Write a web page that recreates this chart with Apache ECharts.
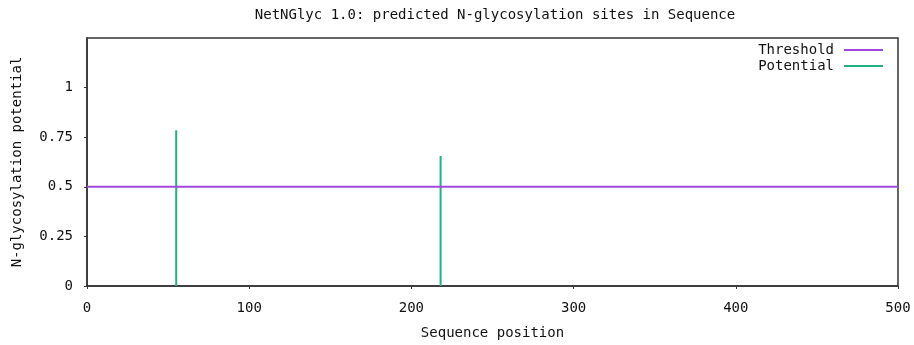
<!DOCTYPE html>
<html>
<head>
<meta charset="utf-8">
<script src="https://cdn.jsdelivr.net/npm/echarts@6/dist/echarts.min.js"></script>
<style>html,body{margin:0;padding:0;background:#fff;}#c{width:914px;height:345px;}</style>
</head>
<body>
<div id="c"></div>
<script>
const titleText = 'NetNGlyc 1.0: predicted N-glycosylation sites in Sequence';
const xName = 'Sequence position';
const yName = 'N-glycosylation potential';
const seriesNames = ['Threshold', 'Potential'];
const thresholdValue = 0.5;
const seqRange = [0, 500];
const sitePositions = [55, 218];
const sitePotentials = [0.785, 0.655];

const FONT = 'DejaVu Sans Mono';
const chart = echarts.init(document.getElementById('c'));
chart.setOption({
  animation: false,
  backgroundColor: '#fff',
  title: {
    text: titleText, left: 490, top: 3, textAlign: 'center',
    textStyle: { fontFamily: FONT, fontSize: 14, fontWeight: 'normal', color: '#111' }
  },
  legend: {
    orient: 'vertical', right: 26, top: 37, align: 'right',
    icon: 'rect', itemWidth: 39, itemHeight: 2, itemGap: 0,
    data: seriesNames,
    textStyle: { fontFamily: FONT, fontSize: 14, color: '#111', lineHeight: 16, padding: [0, 5, 0, 0] }
  },
  grid: { left: 87, right: 16, top: 38, bottom: 54, show: true, borderColor: '#333', borderWidth: 1.5 },
  xAxis: {
    type: 'value', min: seqRange[0], max: seqRange[1], interval: 100,
    name: xName, nameLocation: 'middle', nameGap: 40,
    nameTextStyle: { fontFamily: FONT, fontSize: 14, color: '#111' },
    axisLine: { show: true, lineStyle: { color: '#333', width: 1.5 } },
    axisTick: { show: true, length: 3, lineStyle: { color: '#333' } },
    axisLabel: { fontFamily: FONT, fontSize: 14, color: '#111', margin: 15 },
    splitLine: { show: false }
  },
  yAxis: {
    type: 'value', min: 0, max: 1.25, interval: 0.25,
    name: yName, nameLocation: 'middle', nameGap: 63, nameRotate: 90,
    nameTextStyle: { fontFamily: FONT, fontSize: 14, color: '#111' },
    axisLine: { show: true, lineStyle: { color: '#333', width: 1.5 } },
    axisTick: { show: true, length: 3, lineStyle: { color: '#333' } },
    axisLabel: { fontFamily: FONT, fontSize: 14, color: '#111', margin: 14, showMaxLabel: false },
    splitLine: { show: false }
  },
  series: [
    {
      name: seriesNames[0], type: 'line', symbol: 'none',
      data: [[seqRange[0], thresholdValue], [seqRange[1], thresholdValue]],
      lineStyle: { color: '#a246dc', width: 2 }, itemStyle: { color: '#a246dc' }
    },
    {
      name: seriesNames[1], type: 'bar', barWidth: 2,
      data: sitePositions.map((p, i) => [p, sitePotentials[i]]),
      itemStyle: { color: '#23b089' }
    }
  ]
});
</script>
</body>
</html>
